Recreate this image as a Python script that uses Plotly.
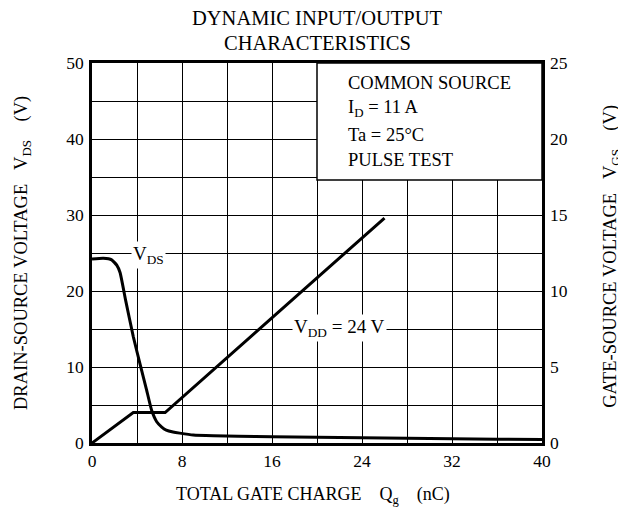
import plotly.graph_objects as go

# Data
qg_vds = [0, 1, 1.75, 2.2, 2.5, 3.0, 3.67, 4.3, 4.85, 5.3, 5.75, 6.2, 6.6, 7.2, 7.8, 9, 10.8, 13, 16, 20, 24, 28, 32, 36, 40]
vds = [24.2, 24.3, 24.1, 23.4, 22.4, 18.7, 14.0, 10.2, 7.0, 4.3, 2.8, 2.1, 1.7, 1.45, 1.3, 1.05, 0.95, 0.88, 0.82, 0.75, 0.68, 0.62, 0.56, 0.5, 0.45]
qg_vgs = [0, 3.67, 6.5, 26.0]
vgs = [0, 2.0, 2.0, 14.8]

x_ticks = [0, 8, 16, 24, 32, 40]
y_left_ticks = [0, 10, 20, 30, 40, 50]
y_right_ticks = [0, 5, 10, 15, 20, 25]

FONT = "Liberation Serif"
NB = "&nbsp;"

fig = go.Figure()
fig.add_trace(go.Scatter(x=qg_vds, y=vds, mode="lines",
                         line=dict(color="black", width=3, shape="spline", smoothing=0.4),
                         showlegend=False, hoverinfo="skip"))
fig.add_trace(go.Scatter(x=qg_vgs, y=vgs, mode="lines", line=dict(color="black", width=3),
                         yaxis="y2", showlegend=False, hoverinfo="skip"))

# conditions box
fig.add_shape(type="rect", xref="x", yref="y", x0=20, x1=40, y0=34.6, y1=50,
              fillcolor="white", line=dict(color="black", width=1.5), layer="above")

box_lines = ["COMMON SOURCE", "I<sub>D</sub> = 11 A", "Ta = 25°C", "PULSE TEST"]
box_y = [47.4, 44.0, 40.5, 37.2]
for t, yy in zip(box_lines, box_y):
    fig.add_annotation(x=22.6, y=yy, xref="x", yref="y", text=t, showarrow=False,
                       xanchor="left", yanchor="middle", font=dict(family=FONT, size=18.5, color="black"))

fig.add_annotation(x=4.98, y=24.7, xref="x", yref="y", text="V<sub>DS</sub>", showarrow=False,
                   bgcolor="white", font=dict(family=FONT, size=19, color="black"))
fig.add_annotation(x=22.0, y=15.1, xref="x", yref="y", text="V<sub>DD</sub> = 24 V", showarrow=False,
                   bgcolor="white", font=dict(family=FONT, size=19, color="black"))

# titles
fig.add_annotation(x=0.5, y=1, xref="paper", yref="paper", yshift=45, yanchor="middle", xanchor="center",
                   showarrow=False, text="DYNAMIC INPUT/OUTPUT", font=dict(family=FONT, size=20.5, color="black"))
fig.add_annotation(x=0.5, y=1, xref="paper", yref="paper", yshift=20, yanchor="middle", xanchor="center",
                   showarrow=False, text="CHARACTERISTICS", font=dict(family=FONT, size=20.5, color="black"))
fig.add_annotation(x=0, y=0.5, xref="paper", yref="paper", xshift=-70, xanchor="center", yanchor="middle",
                   textangle=-90, showarrow=False,
                   text="DRAIN-SOURCE VOLTAGE" + NB * 3 + "V<sub>DS</sub>" + NB * 4 + "(V)",
                   font=dict(family=FONT, size=18.5, color="black"))
fig.add_annotation(x=1, y=0.49, xref="paper", yref="paper", xshift=70, xanchor="center", yanchor="middle",
                   textangle=-90, showarrow=False,
                   text="GATE-SOURCE VOLTAGE" + NB * 3 + "V<sub>GS</sub>" + NB * 4 + "(V)",
                   font=dict(family=FONT, size=18.5, color="black"))
fig.add_annotation(x=0.49, y=0, xref="paper", yref="paper", yshift=-52, xanchor="center", yanchor="middle",
                   showarrow=False,
                   text="TOTAL GATE CHARGE" + NB * 4 + "Q<sub>g</sub>" + NB * 4 + "(nC)",
                   font=dict(family=FONT, size=18, color="black"))

fig.update_layout(
    width=617, height=500,
    margin=dict(l=84, r=83, t=55, b=65),
    paper_bgcolor="white", plot_bgcolor="white",
    font=dict(family=FONT, size=17.5, color="black"),
    xaxis=dict(range=[0, 40], tickvals=list(range(0, 41, 4)),
               ticktext=[str(v) if v in x_ticks else "" for v in range(0, 41, 4)],
               showgrid=True, gridcolor="black", gridwidth=1.2, zeroline=False,
               showline=True, linecolor="black", linewidth=2.5, mirror=True, ticks="", ticklabelstandoff=0),
    yaxis=dict(range=[0, 50], tickvals=list(range(0, 51, 5)),
               ticktext=[str(v) if v in y_left_ticks else "" for v in range(0, 51, 5)],
               showgrid=True, gridcolor="black", gridwidth=1.2, zeroline=False,
               showline=True, linecolor="black", linewidth=2.5, mirror=True, ticks="", ticklabelstandoff=2),
    yaxis2=dict(range=[0, 25], tickvals=y_right_ticks, overlaying="y", side="right",
                showgrid=False, zeroline=False, showline=False, ticks="", ticklabelstandoff=7),
)

fig.write_html("out.html")
